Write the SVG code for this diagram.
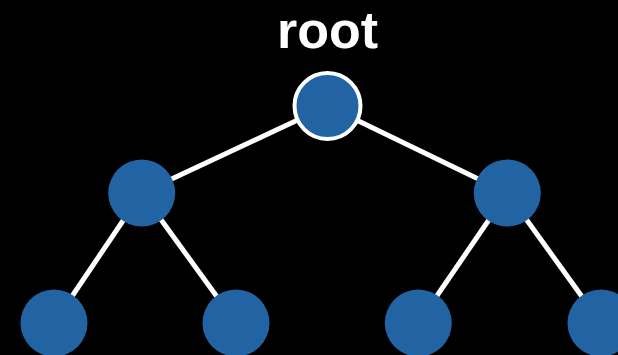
<svg xmlns="http://www.w3.org/2000/svg" width="618" height="355" viewBox="0 0 618 355">
<style>
.edge{stroke:#ffffff;stroke-width:5;fill:none}
.node{fill:#2264a3}
.root{stroke:#ffffff;stroke-width:4}
.label{font-family:"Liberation Sans",Arial,sans-serif;font-weight:bold;font-size:52px;fill:#ffffff;text-anchor:middle}
</style>
<rect x="0" y="0" width="618" height="355" fill="#000000"/>
<g id="connectors">
<line class="edge" x1="327.5" y1="106" x2="141.7" y2="193"/>
<line class="edge" x1="327.5" y1="106" x2="507.3" y2="193"/>
<line class="edge" x1="141.7" y1="193" x2="54" y2="323"/>
<line class="edge" x1="141.7" y1="193" x2="236" y2="323"/>
<line class="edge" x1="507.3" y1="193" x2="418.3" y2="323"/>
<line class="edge" x1="507.3" y1="193" x2="601" y2="323"/>
</g>
<g id="root"><circle class="node root" cx="327.5" cy="106" r="33"/><text class="label" x="327.5" y="48">root</text></g>
<g id="n_left"><circle class="node" cx="141.7" cy="193" r="33.5"/></g>
<g id="n_right"><circle class="node" cx="507.3" cy="193" r="33.5"/></g>
<g id="leaf1"><circle class="node" cx="54" cy="323" r="33.5"/></g>
<g id="leaf2"><circle class="node" cx="236" cy="323" r="33.5"/></g>
<g id="leaf3"><circle class="node" cx="418.3" cy="323" r="33.5"/></g>
<g id="leaf4"><circle class="node" cx="601" cy="323" r="33.5"/></g>
</svg>
